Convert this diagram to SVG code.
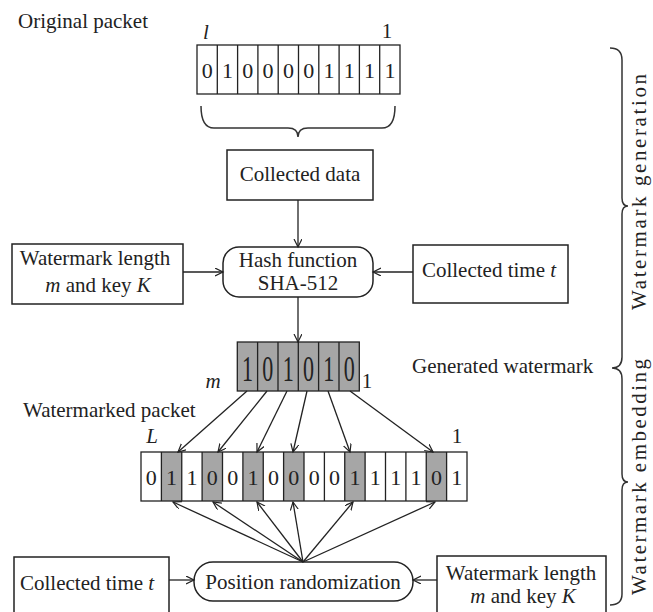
<svg xmlns="http://www.w3.org/2000/svg" width="653" height="612" viewBox="0 0 653 612" font-family="'Liberation Serif', serif">
<defs>
<marker id="arr" markerWidth="10" markerHeight="10" refX="8" refY="4" orient="auto" markerUnits="userSpaceOnUse">
<path d="M0,0 L8,4 L0,8" fill="none" stroke="#222" stroke-width="1.2"/>
</marker>
<style>
text{font-family:'Liberation Serif',serif;font-size:21px;fill:#222}
.it{font-style:italic}
.c{text-anchor:middle}
.box{fill:#fff;stroke:#222;stroke-width:1.5}
.cell{fill:none;stroke:#222;stroke-width:1.3}
.sh{fill:#a6a6a6;stroke:none}
.ar{fill:none;stroke:#222;stroke-width:1.3;marker-end:url(#arr)}
.dg{font-size:22px;text-anchor:middle}
.br{fill:none;stroke:#333;stroke-width:1.5}
</style>
</defs>
<rect width="653" height="612" fill="#fff"/>

<g id="original-packet">
<text x="18" y="28">Original packet</text>
<text class="it c" x="206" y="39">l</text>
<text class="c" x="387" y="38">1</text>
<rect class="cell" x="197" y="45" width="203" height="49"/>
<path class="cell" d="M217.3,45V94M237.6,45V94M257.9,45V94M278.2,45V94M298.5,45V94M318.8,45V94M339.1,45V94M359.4,45V94M379.7,45V94"/>
<text x="207.2" y="78" class="dg">0</text><text x="227.5" y="78" class="dg">1</text><text x="247.8" y="78" class="dg">0</text><text x="268.1" y="78" class="dg">0</text><text x="288.4" y="78" class="dg">0</text><text x="308.7" y="78" class="dg">0</text><text x="329" y="78" class="dg">1</text><text x="349.3" y="78" class="dg">1</text><text x="369.6" y="78" class="dg">1</text><text x="389.9" y="78" class="dg">1</text>
<path class="br" d="M201,106 Q201,128 214,128 L288,128 Q298,128 298,137 Q298,128 308,128 L382,128 Q395,128 395,106"/>
</g>

<g id="collected-data">
<rect class="box" x="227" y="150" width="146" height="50"/>
<text class="c" x="300" y="181">Collected data</text>
</g>

<g id="wm-length-key-top">
<rect class="box" x="12" y="244" width="171" height="60"/>
<text class="c" x="95" y="265">Watermark length</text>
<text class="c" x="98" y="292"><tspan class="it">m</tspan> and key <tspan class="it">K</tspan></text>
</g>

<g id="hash-function">
<rect class="box" x="223" y="247" width="150" height="50" rx="16"/>
<text class="c" x="298" y="267">Hash function</text>
<text class="c" x="298" y="290">SHA-512</text>
</g>

<g id="collected-time-top">
<rect class="box" x="413" y="245" width="155" height="58"/>
<text class="c" x="489" y="277">Collected time <tspan class="it">t</tspan></text>
</g>

<g id="generated-watermark">
<rect class="sh" x="237.3" y="342" width="122" height="49"/>
<rect class="cell" x="237.3" y="342" width="122" height="49"/>
<path class="cell" d="M257.6,342V391M278,342V391M298.3,342V391M318.6,342V391M339,342V391"/>
<text class="dg" transform="translate(247.5,381) scale(1,1.6)">1</text>
<text class="dg" transform="translate(267.8,381) scale(1,1.6)">0</text>
<text class="dg" transform="translate(288.2,381) scale(1,1.6)">1</text>
<text class="dg" transform="translate(308.5,381) scale(1,1.6)">0</text>
<text class="dg" transform="translate(328.8,381) scale(1,1.6)">1</text>
<text class="dg" transform="translate(349.2,381) scale(1,1.6)">0</text>
<text class="it c" x="213" y="388">m</text>
<text class="c" x="367" y="388">1</text>
<text x="412" y="373">Generated watermark</text>
</g>

<g id="watermarked-packet">
<text x="23" y="417">Watermarked packet</text>
<text class="it c" x="152" y="443">L</text>
<text class="c" x="457" y="443">1</text>
<rect class="sh" x="161.4" y="452" width="20.4" height="49"/>
<rect class="sh" x="202.1" y="452" width="20.4" height="49"/>
<rect class="sh" x="242.9" y="452" width="20.4" height="49"/>
<rect class="sh" x="283.6" y="452" width="20.4" height="49"/>
<rect class="sh" x="344.75" y="452" width="20.4" height="49"/>
<rect class="sh" x="426.25" y="452" width="20.4" height="49"/>
<rect class="cell" x="141" y="452" width="326" height="49"/>
<path class="cell" d="M161.4,452V501M181.75,452V501M202.1,452V501M222.5,452V501M242.9,452V501M263.25,452V501M283.6,452V501M304,452V501M324.4,452V501M344.75,452V501M365.1,452V501M385.5,452V501M405.9,452V501M426.25,452V501M446.6,452V501"/>
<text class="dg" x="151.2" y="485">0</text><text class="dg" x="171.6" y="485">1</text><text class="dg" x="191.9" y="485">1</text><text class="dg" x="212.3" y="485">0</text><text class="dg" x="232.7" y="485">0</text><text class="dg" x="253.1" y="485">1</text><text class="dg" x="273.4" y="485">0</text><text class="dg" x="293.8" y="485">0</text><text class="dg" x="314.2" y="485">0</text><text class="dg" x="334.6" y="485">0</text><text class="dg" x="354.9" y="485">1</text><text class="dg" x="375.3" y="485">1</text><text class="dg" x="395.7" y="485">1</text><text class="dg" x="416.1" y="485">1</text><text class="dg" x="436.4" y="485">0</text><text class="dg" x="456.8" y="485">1</text>
</g>

<g id="collected-time-bottom">
<rect class="box" x="14" y="557" width="155" height="64"/>
<text x="20" y="590">Collected time <tspan class="it">t</tspan></text>
</g>

<g id="position-randomization">
<rect class="box" x="194" y="562" width="219" height="39" rx="19"/>
<text class="c" x="303" y="589">Position randomization</text>
</g>

<g id="wm-length-key-bottom">
<rect class="box" x="437" y="556" width="169" height="64"/>
<text class="c" x="521" y="580">Watermark length</text>
<text class="c" x="523" y="603"><tspan class="it">m</tspan> and key <tspan class="it">K</tspan></text>
</g>

<g id="phase-braces">
<path class="br" d="M610,48 Q622,48 622,60 L622,198 Q622,206 628,206 Q622,206 622,214 L622,357 Q622,368 612,368 Q622,368 622,379 L622,474 Q622,482 628,482 Q622,482 622,490 L622,594 Q622,605 610,605"/>
<text class="c" transform="translate(646,192) rotate(-90)" textLength="236" lengthAdjust="spacing">Watermark generation</text>
<text class="c" transform="translate(646,477) rotate(-90)" textLength="236" lengthAdjust="spacing">Watermark embedding</text>
</g>

<g id="connectors">
<path class="ar" d="M298,200 V247"/>
<path class="ar" d="M183,272 H223"/>
<path class="ar" d="M413,272 H373"/>
<path class="ar" d="M298,297 V342"/>
<path class="ar" d="M247,391 L178,452"/>
<path class="ar" d="M267,391 L218,452"/>
<path class="ar" d="M287,391 L257,452"/>
<path class="ar" d="M307,391 L293,452"/>
<path class="ar" d="M328,391 L350,452"/>
<path class="ar" d="M350,391 L433,452"/>
<path class="ar" d="M303,562 L173,502"/>
<path class="ar" d="M303,562 L213,502"/>
<path class="ar" d="M303,562 L257,502"/>
<path class="ar" d="M303,562 L293,502"/>
<path class="ar" d="M303,562 L353,502"/>
<path class="ar" d="M303,562 L435,502"/>
<path class="ar" d="M169,580 H194"/>
<path class="ar" d="M437,580 H413"/>
</g>
</svg>
